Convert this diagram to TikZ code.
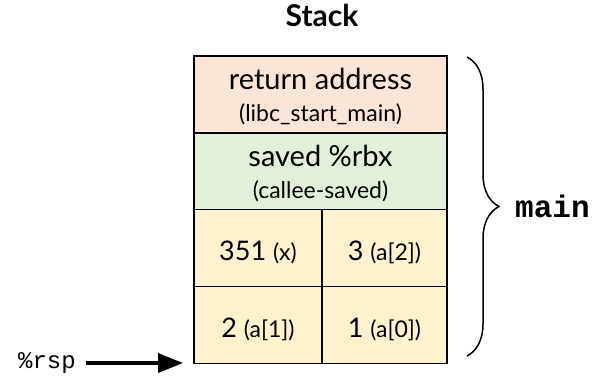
\documentclass[tikz,border=0pt]{standalone}
\usepackage{fontspec}
\setmainfont{Lato}
\setmonofont{Liberation Mono}
\usetikzlibrary{decorations.pathreplacing,arrows.meta}

\definecolor{retfill}{HTML}{FBE5D6}
\definecolor{savefill}{HTML}{E2F0D9}
\definecolor{varfill}{HTML}{FFF2CC}

\newcommand{\subtxt}[1]{{\fontsize{23}{26}\selectfont #1}}

\begin{document}
\begin{tikzpicture}[x=1pt,y=-1pt,
  cell/.style={draw=black, line width=1.5pt, inner sep=0pt, minimum height=77pt},
  wide/.style={cell, minimum width=253pt},
  bigtxt/.style={anchor=base, inner sep=0pt, font=\fontsize{29}{34}\selectfont},
  smalltxt/.style={anchor=base, inner sep=0pt, font=\fontsize{23}{26}\selectfont},
  numtxt/.style={anchor=base, inner sep=0pt, font=\fontsize{27}{32}\selectfont}]
\useasboundingbox (0,0) rectangle (608,377);

% title
\node[font=\fontsize{30}{34}\selectfont\bfseries, anchor=base, inner sep=0pt]
  (title) at (322,27) {Stack};

% frame of main: the slots
\node[wide, fill=retfill] (ret) at (320.5,94.5) {};
\node[wide, fill=savefill] (rbx) at (320.5,171.5) {};
\node[cell, fill=varfill, minimum width=128pt] (x) at (258,248) {};
\node[cell, fill=varfill, minimum width=125pt] (a2) at (384.5,248) {};
\node[cell, fill=varfill, minimum width=128pt] (a1) at (258,325) {};
\node[cell, fill=varfill, minimum width=125pt] (a0) at (384.5,325) {};

% slot contents
\node[bigtxt] (retl1) at (320.5,90) {return address};
\node[smalltxt] (retl2) at (320.5,122) {(libc\_start\_main)};
\node[bigtxt] (rbxl1) at (320.5,167) {saved \%rbx};
\node[smalltxt] (rbxl2) at (320.5,198) {(callee-saved)};
\node[numtxt] (xl) at (x |- 0,260) {351 \subtxt{(x)}};
\node[numtxt] (a2l) at (a2 |- 0,260) {3 \subtxt{(a[2])}};
\node[numtxt] (a1l) at (a1 |- 0,337) {2 \subtxt{(a[1])}};
\node[numtxt] (a0l) at (a0 |- 0,337) {1 \subtxt{(a[0])}};

% brace marking the frame
\coordinate (btop) at (467,57);
\coordinate (bbot) at (467,356);
\draw[line width=1.5pt, decorate, decoration={brace, amplitude=32pt}]
  (btop) -- (bbot);
\node[font=\fontsize{31}{36}\selectfont\ttfamily\bfseries, anchor=base west,
  inner sep=0pt] (main) at (515,218) {main};

% stack pointer
\node[font=\fontsize{24}{28}\selectfont\ttfamily, anchor=base west, inner sep=0pt]
  (rsp) at (18,368) {\%rsp};
\coordinate (rspend) at (183,363);
\draw[line width=3.5pt, -{Triangle[length=25pt,width=19pt]}]
  (rsp.east |- rspend) ++(10,0) -- (rspend);
\end{tikzpicture}
\end{document}
